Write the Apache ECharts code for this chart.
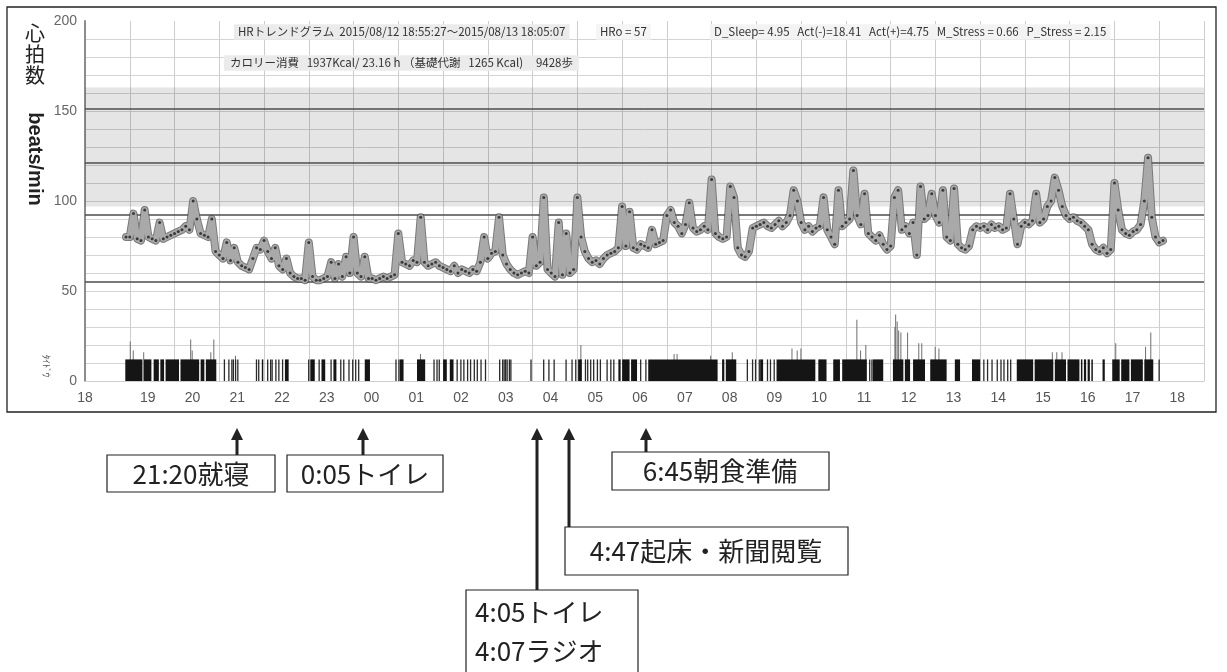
<!DOCTYPE html>
<html><head><meta charset="utf-8">
<script src="https://cdn.jsdelivr.net/npm/echarts@6/dist/echarts.min.js"></script>
<style>html,body{margin:0;padding:0;background:#fff;}#c{width:1227px;height:672px;}</style>
</head><body><div id="c"></div>
<script>
// ---------- DATA ----------
// Heart rate (beats/min), 5-minute samples starting 18:55
const hrStart = '18:55';
const hr18 = [80];
const hr19 = [80, 93, 79, 78, 95, 80, 79, 78, 88, 79, 80, 81];
const hr20 = [82, 83, 84, 86, 84, 100, 90, 82, 81, 80, 90, 72];
const hr21 = [70, 68, 77, 67, 74, 66, 64, 63, 62, 68, 74, 73];
const hr22 = [78, 72, 68, 74, 64, 62, 68, 60, 58, 57, 57, 56];
const hr23 = [77, 58, 56, 56, 57, 58, 66, 57, 65, 58, 69, 60];
const hr00 = [80, 60, 58, 69, 57, 57, 56, 57, 58, 57, 58, 59];
const hr01 = [82, 66, 65, 64, 67, 66, 91, 66, 64, 65, 66, 64];
const hr02 = [63, 62, 61, 64, 60, 62, 61, 60, 62, 61, 66, 80];
const hr03 = [68, 71, 72, 91, 70, 65, 62, 60, 59, 60, 61, 60];
const hr04 = [80, 64, 66, 102, 62, 60, 58, 88, 59, 82, 60, 62];
const hr05 = [102, 80, 72, 68, 66, 67, 65, 68, 70, 71, 72, 74];
const hr06 = [97, 75, 94, 74, 73, 76, 75, 74, 84, 76, 77, 78];
const hr07 = [92, 95, 88, 86, 82, 87, 99, 85, 83, 84, 86, 84];
const hr08 = [112, 82, 80, 79, 80, 108, 102, 74, 70, 69, 72, 85];
const hr09 = [86, 87, 88, 86, 85, 87, 89, 86, 88, 92, 106, 100];
const hr10 = [88, 84, 86, 83, 85, 86, 102, 84, 80, 76, 106, 86];
const hr11 = [88, 90, 117, 92, 87, 104, 82, 80, 78, 81, 76, 73];
const hr12 = [75, 102, 106, 84, 86, 82, 88, 70, 108, 90, 92, 104];
const hr13 = [92, 88, 106, 80, 78, 107, 76, 74, 73, 75, 84, 86];
const hr14 = [85, 86, 84, 87, 85, 86, 84, 85, 104, 90, 76, 86];
const hr15 = [88, 87, 89, 104, 88, 90, 97, 100, 113, 106, 97, 92];
const hr16 = [90, 91, 89, 88, 86, 84, 76, 73, 72, 74, 71, 73];
const hr17 = [110, 95, 84, 82, 81, 83, 84, 87, 100, 124, 91, 80];
const hr18b = [77, 78];

// Activity: solid blocks [start, end, level]
const actBlocks = [
  ['18:54','19:17',12],['19:19','19:29',12],['19:32','19:39',12],['19:41','19:46',12],
  ['19:48','20:06',12],['20:08','20:33',12],['20:35','20:40',12],['20:42','20:56',12],
  ['21:57','21:59',12],['22:28','22:33',12],['23:02','23:08',12],['23:17','23:22',12],
  ['23:33','23:37',12],['00:15','00:22',12],['01:02','01:07',12],['01:25','01:36',12],
  ['02:00','02:05',12],['02:09','02:14',12],['05:01','05:06',12],
  ['05:55','05:58',12],['06:00','06:10',12],['06:12','06:20',12],
  ['06:35','08:08',12],['08:14','08:17',12],['08:19','08:33',12],['09:05','09:09',12],
  ['09:27','10:19',12],['10:23','10:34',12],['10:43','10:52',12],['10:55','11:28',12],
  ['11:36','11:50',12],['12:03','12:17',12],['12:19','12:26',12],['12:30','12:46',12],
  ['12:53','13:15',12],['13:26','13:33',12],['13:49','14:00',12],
  ['14:49','15:11',12],['15:13','15:38',12],['15:40','15:55',12],['15:57','16:13',12],
  ['16:15','16:17',12],['16:19','16:22',12],['16:24','16:27',12],['16:29','16:31',12],
  ['16:44','16:47',12],['16:57','17:07',12],['17:09','17:20',12],['17:22','17:38',12],
  ['17:40','17:52',12]
];
// Activity: single thin strokes [time, level]
const actLines = [
  ['21:06',12],['21:12',12],['21:16',12],['21:18',12],['21:21',12],['21:24',12],
  ['21:49',12],['21:52',12],['22:04',12],['22:08',12],['22:10',12],['22:15',12],['22:19',12],['22:24',12],
  ['22:59',12],['23:13',12],['23:29',12],['23:42',12],['23:46',12],['23:53',12],['23:58',12],
  ['00:02',12],['00:06',12],['00:56',12],['01:00',12],['01:47',12],['01:51',12],['01:54',12],
  ['02:18',12],['02:23',12],['02:27',12],['02:32',12],['02:36',12],['02:41',12],['02:45',12],['02:50',12],
  ['02:56',12],['03:15',12],['03:19',12],['03:21',12],['03:23',12],['03:25',12],['03:28',12],['03:30',12],
  ['03:57',12],['04:14',12],['04:21',12],['04:28',12],['04:44',12],['04:52',12],['04:57',12],
  ['05:10',12],['05:13',12],['05:17',12],['05:21',12],['05:26',12],['05:30',12],['05:39',12],['05:44',12],['05:48',12],
  ['06:24',12],['06:31',12],['08:47',12],['08:54',12],['08:58',12],['09:03',12],['09:14',12],['09:18',12],['09:23',12],
  ['11:31',12],['11:34',12],['14:04',12],['14:09',12],['14:15',12],['14:22',12],['14:27',12],['14:31',12],['14:36',12],['14:40',12],
  ['17:59',12]
];
// Activity: tall spikes [time, level]
const actSpikes = [
  ['19:00',22],['19:04',17],['19:18',16],['20:21',23],['20:23',17],['20:48',16],['20:52',23],['21:21',14],
  ['01:29',15],['05:04',20],['07:09',15],['07:13',15],['07:58',14],['08:27',16],['09:47',18],['09:54',17],['09:59',18],
  ['11:14',34],['11:19',17],['11:26',20],['12:05',30],['12:06',37],['12:08',33],['12:10',28],['12:13',27],['12:22',27],
  ['12:37',21],['12:41',21],['12:59',19],['13:04',18],['15:36',16],['15:42',16],['15:49',16],
  ['17:01',21],['17:41',19],['17:48',27]
];

// Reference levels (beats/min)
const zoneBand = [97, 163];
const refLines = [151, 121, 92.5, 55];

// Axis labels
const xTickLabels = ['18','19','20','21','22','23','00','01','02','03','04','05','06','07','08','09','10','11','12','13','14','15','16','17','18'];
const yTickLabels = ['0','50','100','150','200'];

// Header texts
const headerLine1 = 'HRトレンドグラム  2015/08/12 18:55:27〜2015/08/13 18:05:07';
const headerHRo = 'HRo = 57';
const headerStats = 'D_Sleep= 4.95   Act(-)=18.41   Act(+)=4.75   M_Stress = 0.66   P_Stress = 2.15';
const headerLine2 = 'カロリー消費   1937Kcal/ 23.16 h （基礎代謝   1265 Kcal)     9428歩';

// ---------- HELPERS ----------
function toH(s) {
  const [h, m] = s.split(':').map(Number);
  return (h < 18 ? h + 24 : h) - 18 + m / 60;
}
const hrAll = [].concat(hr18, hr19, hr20, hr21, hr22, hr23, hr00, hr01, hr02, hr03, hr04, hr05,
  hr06, hr07, hr08, hr09, hr10, hr11, hr12, hr13, hr14, hr15, hr16, hr17, hr18b);
const t0 = toH(hrStart);
const hrData = hrAll.map((v, i) => [t0 + i * 5 / 60, v]);
const blockData = actBlocks.map(d => [toH(d[0]), toH(d[1]), d[2]]);
const lineData = actLines.map(d => [toH(d[0]), toH(d[0]) + 1 / 60, d[1]]);
const spikeData = actSpikes.map(d => [toH(d[0]), toH(d[0]), d[1]]);

function rectRenderer(minW) {
  return function (params, api) {
    const s = api.value(0), e = api.value(1), v = api.value(2);
    const p0 = api.coord([s, v]);
    const p1 = api.coord([e, 0]);
    const w = Math.max(p1[0] - p0[0], minW);
    return { type: 'rect', shape: { x: p0[0], y: p0[1], width: w, height: p1[1] - p0[1] },
      style: { fill: api.visual('color') } };
  };
}

const ySplitColors = [];
for (let v = 0; v <= 200; v += 10) ySplitColors.push(v === 200 ? 'rgba(0,0,0,0)' : '#d4d4d4');

const chart = echarts.init(document.getElementById('c'), null, { renderer: 'canvas' });
const hdrFont = '11.5px "Noto Sans CJK JP", sans-serif';
const annFont = '26px "Noto Sans CJK JP", sans-serif';

function box(x, y, w, h) {
  return { type: 'rect', shape: { x, y, width: w, height: h }, style: { fill: '#fff', stroke: '#222', lineWidth: 1.2 }, z: 10 };
}
function txt(x, y, text, font, align, fill) {
  return { type: 'text', x, y, style: { text, font, fill: fill || '#222', align: align || 'center', verticalAlign: 'middle' }, z: 11 };
}
function arrow(x, y1, y2) {
  return [
    { type: 'line', shape: { x1: x, y1: y1 + 8, x2: x, y2: y2 }, style: { stroke: '#222', lineWidth: 3 }, z: 10 },
    { type: 'polygon', shape: { points: [[x, y1], [x - 6, y1 + 12], [x + 6, y1 + 12]] }, style: { fill: '#222' }, z: 10 }
  ];
}

const option = {
  animation: false,
  backgroundColor: '#fff',
  grid: { left: 85, right: 23, top: 21, bottom: 291, containLabel: false },
  xAxis: {
    type: 'value', min: 0, max: 25, interval: 1,
    axisLine: { show: true, lineStyle: { color: '#cfcfcf', width: 1 } },
    axisTick: { show: false },
    splitLine: { show: true, lineStyle: { color: '#cdcdcd', width: 1 } },
    axisLabel: {
      show: true, margin: 10, showMaxLabel: false,
      formatter: function (v) {
        const lab = xTickLabels[Math.round(v)];
        if (lab === undefined) return '';
        return Math.round(v) === 0 ? '{a|' + lab + '}' : '{b|' + lab + '}';
      },
      rich: {
        a: { fontSize: 14, color: '#555', fontFamily: 'Liberation Sans, Arial, sans-serif' },
        b: { fontSize: 14, color: '#555', fontFamily: 'Liberation Sans, Arial, sans-serif', padding: [0, 0, 0, 36] }
      }
    }
  },
  yAxis: {
    type: 'value', min: 0, max: 200, interval: 10,
    axisLine: { show: true, lineStyle: { color: '#8c8c8c', width: 2 } },
    axisTick: { show: false },
    splitLine: { show: true, lineStyle: { color: ySplitColors, width: 1 } },
    axisLabel: {
      margin: 8, fontSize: 14, color: '#666', fontFamily: 'Liberation Sans, Arial, sans-serif',
      formatter: function (v) { return v % 50 === 0 ? yTickLabels[v / 50] : ''; }
    }
  },
  series: [
    {
      type: 'scatter', data: [], z: 1, silent: true,
      markArea: { silent: true, itemStyle: { color: 'rgba(0,0,0,0.10)' },
        data: [[{ yAxis: zoneBand[1] }, { yAxis: zoneBand[0] }]] },
      markLine: { silent: true, symbol: ['none', 'none'], label: { show: false },
        lineStyle: { color: '#4d4d4d', width: 1.5, type: 'solid' },
        data: refLines.map(v => ({ yAxis: v })) }
    },
    { type: 'custom', renderItem: rectRenderer(1), data: blockData, itemStyle: { color: '#151515' }, z: 3, silent: true, encode: { x: [0, 1], y: 2 } },
    { type: 'custom', renderItem: rectRenderer(1.3), data: lineData, itemStyle: { color: '#2a2a2a' }, z: 3, silent: true, encode: { x: [0, 1], y: 2 } },
    { type: 'custom', renderItem: rectRenderer(1), data: spikeData, itemStyle: { color: '#6e6e6e' }, z: 2, silent: true, encode: { x: [0, 1], y: 2 } },
    {
      type: 'line', data: hrData, z: 4, silent: true, showSymbol: false,
      lineStyle: { color: '#7a7a7a', width: 8, join: 'round', cap: 'round' }
    },
    {
      type: 'line', data: hrData, z: 5, silent: true,
      symbol: 'circle', symbolSize: 3, showSymbol: true, showAllSymbol: true,
      itemStyle: { color: '#3a3a3a' },
      lineStyle: { color: '#a9a9a9', width: 6, join: 'round', cap: 'round' }
    }
  ],
  graphic: [].concat(
    [
      { type: 'rect', shape: { x: 7, y: 7, width: 1209, height: 405 }, style: { fill: 'none', stroke: '#222', lineWidth: 1.3 }, z: 20 },
      { type: 'text', x: 234, y: 32, style: { text: headerLine1, font: hdrFont, fill: '#333', verticalAlign: 'middle', backgroundColor: '#ebebeb', padding: [2, 4] }, z: 12 },
      { type: 'text', x: 596, y: 32, style: { text: headerHRo, font: hdrFont, fill: '#333', verticalAlign: 'middle', backgroundColor: '#f5f5f5', padding: [2, 4] }, z: 12 },
      { type: 'text', x: 710, y: 32, style: { text: headerStats, font: hdrFont, fill: '#333', verticalAlign: 'middle', backgroundColor: '#f3f3f3', padding: [2, 4] }, z: 12 },
      { type: 'text', x: 224, y: 63, style: { text: headerLine2, font: hdrFont, fill: '#333', verticalAlign: 'middle', backgroundColor: '#ebebeb', padding: [2, 6] }, z: 12 },
      { type: 'text', x: 35, y: 54, style: { text: '心\n拍\n数', font: '20px "Noto Sans CJK JP", sans-serif', fill: '#222', align: 'center', verticalAlign: 'middle', lineHeight: 21 }, z: 12 },
      { type: 'text', x: 35, y: 159, rotation: -Math.PI / 2, style: { text: 'beats/min', font: 'bold 20px "Liberation Sans", Arial, sans-serif', fill: '#222', align: 'center', verticalAlign: 'middle' }, z: 12 },
      { type: 'text', x: 46, y: 366, rotation: -Math.PI / 2, style: { text: 'ﾀｲﾄﾞｳ', font: '9px "Noto Sans CJK JP", sans-serif', fill: '#555', align: 'center', verticalAlign: 'middle' }, z: 12 },
      box(107, 455, 168, 37), txt(191, 474, '21:20就寝', annFont),
      box(287, 455, 156, 37), txt(365, 474, '0:05トイレ', annFont),
      box(612, 452, 217, 38), txt(720, 471, '6:45朝食準備', annFont),
      box(565, 527, 283, 48), txt(706, 551, '4:47起床・新聞閲覧', annFont),
      box(466, 590, 172, 95), txt(475, 612, '4:05トイレ', annFont, 'left'), txt(475, 651, '4:07ラジオ', annFont, 'left')
    ],
    arrow(237, 428, 455), arrow(363, 428, 455), arrow(646, 428, 452), arrow(569, 428, 527), arrow(537, 428, 590)
  )
};
chart.setOption(option);
</script></body></html>
